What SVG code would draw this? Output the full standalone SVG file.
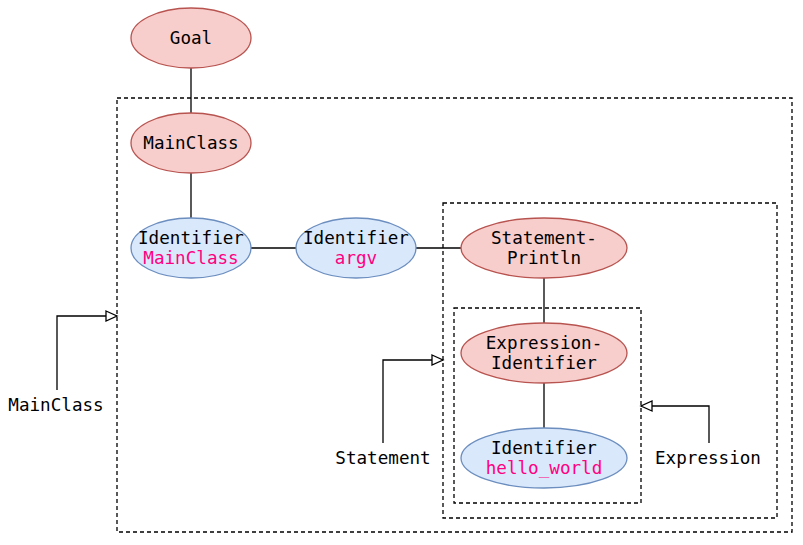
<svg xmlns="http://www.w3.org/2000/svg" width="803" height="545" viewBox="0 0 803 545">
<style>
text{font-family:"DejaVu Sans Mono","Liberation Mono",monospace;font-size:17.6px;fill:#000;text-anchor:middle;dominant-baseline:central}
.red{fill:#f8cecc;stroke:#b85450;stroke-width:1.3}
.blue{fill:#dae8fc;stroke:#6c8ebf;stroke-width:1.3}
.pink{fill:#ff0080}
.box{fill:none;stroke:#000;stroke-width:1.3;stroke-dasharray:4 3}
.ln{fill:none;stroke:#000;stroke-width:1.3}
</style>
<defs>
<marker id="tri" markerWidth="14" markerHeight="12" refX="12" refY="6" orient="auto" markerUnits="userSpaceOnUse">
<path d="M1,1 L12,6 L1,11 Z" fill="#fff" stroke="#000" stroke-width="1.3"/>
</marker>
</defs>
<g id="containers">
<rect class="box" x="117" y="98" width="675" height="434"/>
<rect class="box" x="443" y="203" width="334" height="315"/>
<rect class="box" x="454" y="308" width="187" height="195"/>
</g>
<g id="connectors">
<line class="ln" x1="191" y1="68" x2="191" y2="113"/>
<line class="ln" x1="191" y1="173" x2="191" y2="218"/>
<line class="ln" x1="251" y1="248" x2="296" y2="248"/>
<line class="ln" x1="416" y1="248" x2="461" y2="248"/>
<line class="ln" x1="544" y1="278" x2="544" y2="323"/>
<line class="ln" x1="544" y1="383" x2="544" y2="428"/>
<path class="ln" d="M57,390 V316 H117" marker-end="url(#tri)"/>
<path class="ln" d="M383,443 V360 H443" marker-end="url(#tri)"/>
<path class="ln" d="M709,443 V406 H641" marker-end="url(#tri)"/>
</g>
<g id="goal"><ellipse class="red" cx="191" cy="38" rx="60" ry="30"/><text x="191" y="38">Goal</text></g>
<g id="mainclass"><ellipse class="red" cx="191" cy="143" rx="60" ry="30"/><text x="191" y="143">MainClass</text></g>
<g id="identifier-mainclass"><ellipse class="blue" cx="191" cy="248" rx="60" ry="30"/><text x="191" y="238">Identifier</text><text class="pink" x="191" y="258">MainClass</text></g>
<g id="identifier-argv"><ellipse class="blue" cx="356" cy="248" rx="60" ry="30"/><text x="356" y="238">Identifier</text><text class="pink" x="356" y="258">argv</text></g>
<g id="statement-println"><ellipse class="red" cx="544" cy="248" rx="83" ry="30"/><text x="544" y="238">Statement-</text><text x="544" y="258">Println</text></g>
<g id="expression-identifier"><ellipse class="red" cx="544" cy="353" rx="83" ry="30"/><text x="544" y="343">Expression-</text><text x="544" y="363">Identifier</text></g>
<g id="identifier-hello"><ellipse class="blue" cx="544" cy="458" rx="83" ry="30"/><text x="544" y="448">Identifier</text><text class="pink" x="544" y="468">hello_world</text></g>
<g id="labels">
<text x="56" y="405">MainClass</text>
<text x="383" y="458">Statement</text>
<text x="708" y="458">Expression</text>
</g>
</svg>
